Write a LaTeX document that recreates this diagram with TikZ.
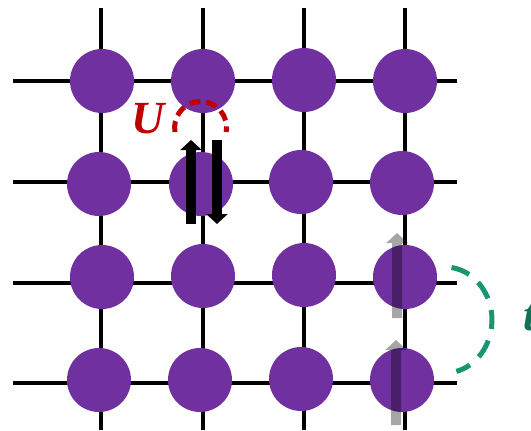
\documentclass[tikz,border=0pt]{standalone}
\usepackage{fontspec}
\setmainfont{Liberation Serif}
\usetikzlibrary{arrows.meta}

\definecolor{sitepurple}{RGB}{112,48,160}
\definecolor{hubbardred}{RGB}{192,0,0}
\definecolor{hopgreen}{RGB}{24,150,112}
\definecolor{hoplabel}{RGB}{18,112,84}

\begin{document}
\begin{tikzpicture}[x=1pt,y=-1pt,
    site/.style={circle,fill=sitepurple,minimum size=64pt,inner sep=0pt},
    bond/.style={line width=3.5pt},
    spin/.style={line width=10pt,-{Triangle[width=21pt,length=10pt]}}]
    \useasboundingbox (0,0) rectangle (531,431);

    % lattice bonds
    \foreach \x in {101,203,304,405}
        \draw [bond] (\x,8) -- (\x,430);
    \foreach \y in {81,182,283,383}
        \draw [bond] (13,\y) -- (457,\y);

    % lattice sites, row by row
    \foreach \c/\x/\y in {1/102/81,2/203/81,3/304/80,4/405/81}
        \node [site] (a\c) at (\x,\y) {};
    \foreach \c/\x/\y in {1/99/184,2/201/184,3/301/182,4/402/183}
        \node [site] (b\c) at (\x,\y) {};
    \foreach \c/\x/\y in {1/102/277,2/203/276,3/304/275,4/405/277}
        \node [site] (c\c) at (\x,\y) {};
    \foreach \c/\x/\y in {1/99/380,2/200/380,3/301/379,4/402/380}
        \node [site] (d\c) at (\x,\y) {};

    % doubly occupied site
    \coordinate (upS) at (191,224);
    \coordinate (upE) at (191,140);
    \coordinate (dnS) at (217,140);
    \coordinate (dnE) at (217,224);
    \draw [spin] (upS) -- (upE);
    \draw [spin] (dnS) -- (dnE);

    % on-site repulsion (y axis points down, so angles run the other way)
    \draw [hubbardred,line width=5pt,dash pattern=on 11pt off 6pt]
        (175,132) arc [radius=26, start angle=170, end angle=370];
    \node [hubbardred,font=\fontsize{46}{46}\selectfont\bfseries\itshape] (U) at (148,119) {U};

    % hopping electron
    \coordinate (g1S) at (397,318);
    \coordinate (g1E) at (397,233);
    \coordinate (g2S) at (396,425);
    \coordinate (g2E) at (396,340);
    \begin{scope}[transparency group,opacity=.35]
        \draw [spin] (g1S) -- (g1E);
        \draw [spin] (g2S) -- (g2E);
    \end{scope}

    \draw [hopgreen,line width=5pt,dash pattern=on 19pt off 12pt]
        (451.5,267.5) arc [x radius=47, y radius=53, start angle=-82, end angle=76];
    \node [hoplabel,font=\fontsize{46}{46}\selectfont\bfseries\itshape,anchor=west] (t) at (520,318) {t};
\end{tikzpicture}
\end{document}
